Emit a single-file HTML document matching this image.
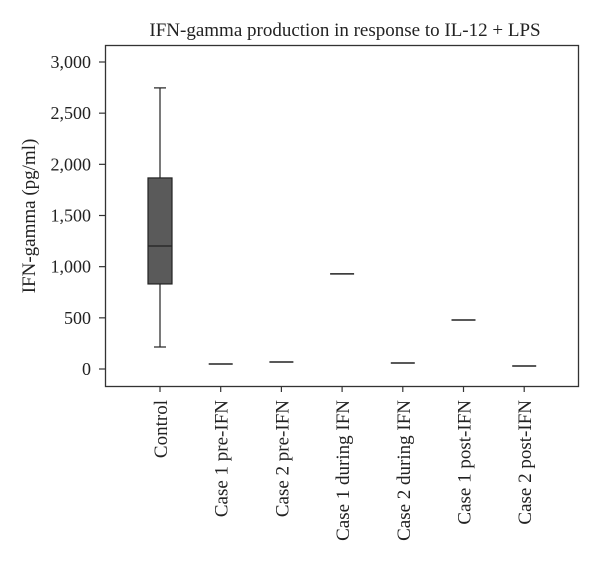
<!DOCTYPE html>
<html><head><meta charset="utf-8"><style>
body{margin:0;background:#fff;}
svg text{font-family:"Liberation Serif",serif;fill:#222;}
</style></head><body>
<svg width="600" height="562" viewBox="0 0 600 562">
<text x="345" y="36" text-anchor="middle" font-size="19">IFN-gamma production in response to IL-12 + LPS</text>
<rect x="105.5" y="45.5" width="473" height="341" fill="none" stroke="#333" stroke-width="1.3"/>
<text transform="translate(35,216) rotate(-90)" text-anchor="middle" font-size="19">IFN-gamma (pg/ml)</text>
<g id="yaxis"></g>
<g id="xaxis"></g>
<g id="marks"></g>
</svg>
<script>
const categories=["Control","Case 1 pre-IFN","Case 2 pre-IFN","Case 1 during IFN","Case 2 during IFN","Case 1 post-IFN","Case 2 post-IFN"];
const yTicks=[0,500,1000,1500,2000,2500,3000];
const yTickLabels=["0","500","1,000","1,500","2,000","2,500","3,000"];
const controlBox={min:215,q1:831,median:1202,q3:1867,max:2747};
const singleValues=[null,49,68,929,59,479,29];
const NS="http://www.w3.org/2000/svg";
function y(v){return 369-v*(307/3000);}
function x(i){return 160+i*60.7;}
function mk(tag,attrs,parent){const e=document.createElementNS(NS,tag);for(const k in attrs)e.setAttribute(k,attrs[k]);parent.appendChild(e);return e;}
const ya=document.getElementById('yaxis'),xa=document.getElementById('xaxis'),mg=document.getElementById('marks');
yTicks.forEach((t,i)=>{
 const l=mk('line',{x1:99,x2:105,y1:y(t),y2:y(t),stroke:'#333','stroke-width':1.2},ya);
 
 
 const tx=mk('text',{x:91,y:y(t)+6,'text-anchor':'end','font-size':18},ya);
 tx.textContent=yTickLabels[i];
 
 
});
categories.forEach((c,i)=>{
 const l=mk('line',{x1:x(i),x2:x(i),y1:386,y2:392,stroke:'#333','stroke-width':1.2},xa);
 
 
 const tx=mk('text',{transform:`translate(${x(i)+7},400) rotate(-90)`,'text-anchor':'end','font-size':19},xa);
 tx.textContent=c;
 
 
});
const cx=x(0);
const w=mk('line',{x1:cx,x2:cx,y1:y(controlBox.max),y2:y(controlBox.min),stroke:'#222','stroke-width':1.2},mg);


[controlBox.max,controlBox.min].forEach(v=>{
 const c=mk('line',{x1:cx-6,x2:cx+6,y1:y(v),y2:y(v),stroke:'#222','stroke-width':1.2},mg);
 
 
});
const b=mk('rect',{x:cx-12,y:y(controlBox.q3),width:24,height:y(controlBox.q1)-y(controlBox.q3),fill:'#5a5a5a',stroke:'#222','stroke-width':1.2},mg);


const m=mk('line',{x1:cx-12,x2:cx+12,y1:y(controlBox.median),y2:y(controlBox.median),stroke:'#222','stroke-width':1.3},mg);


singleValues.forEach((v,i)=>{
 if(v===null)return;
 const l=mk('line',{x1:x(i)-12,x2:x(i)+12,y1:y(v),y2:y(v),stroke:'#222','stroke-width':1.5},mg);
 
 
});
</script>
</body></html>
